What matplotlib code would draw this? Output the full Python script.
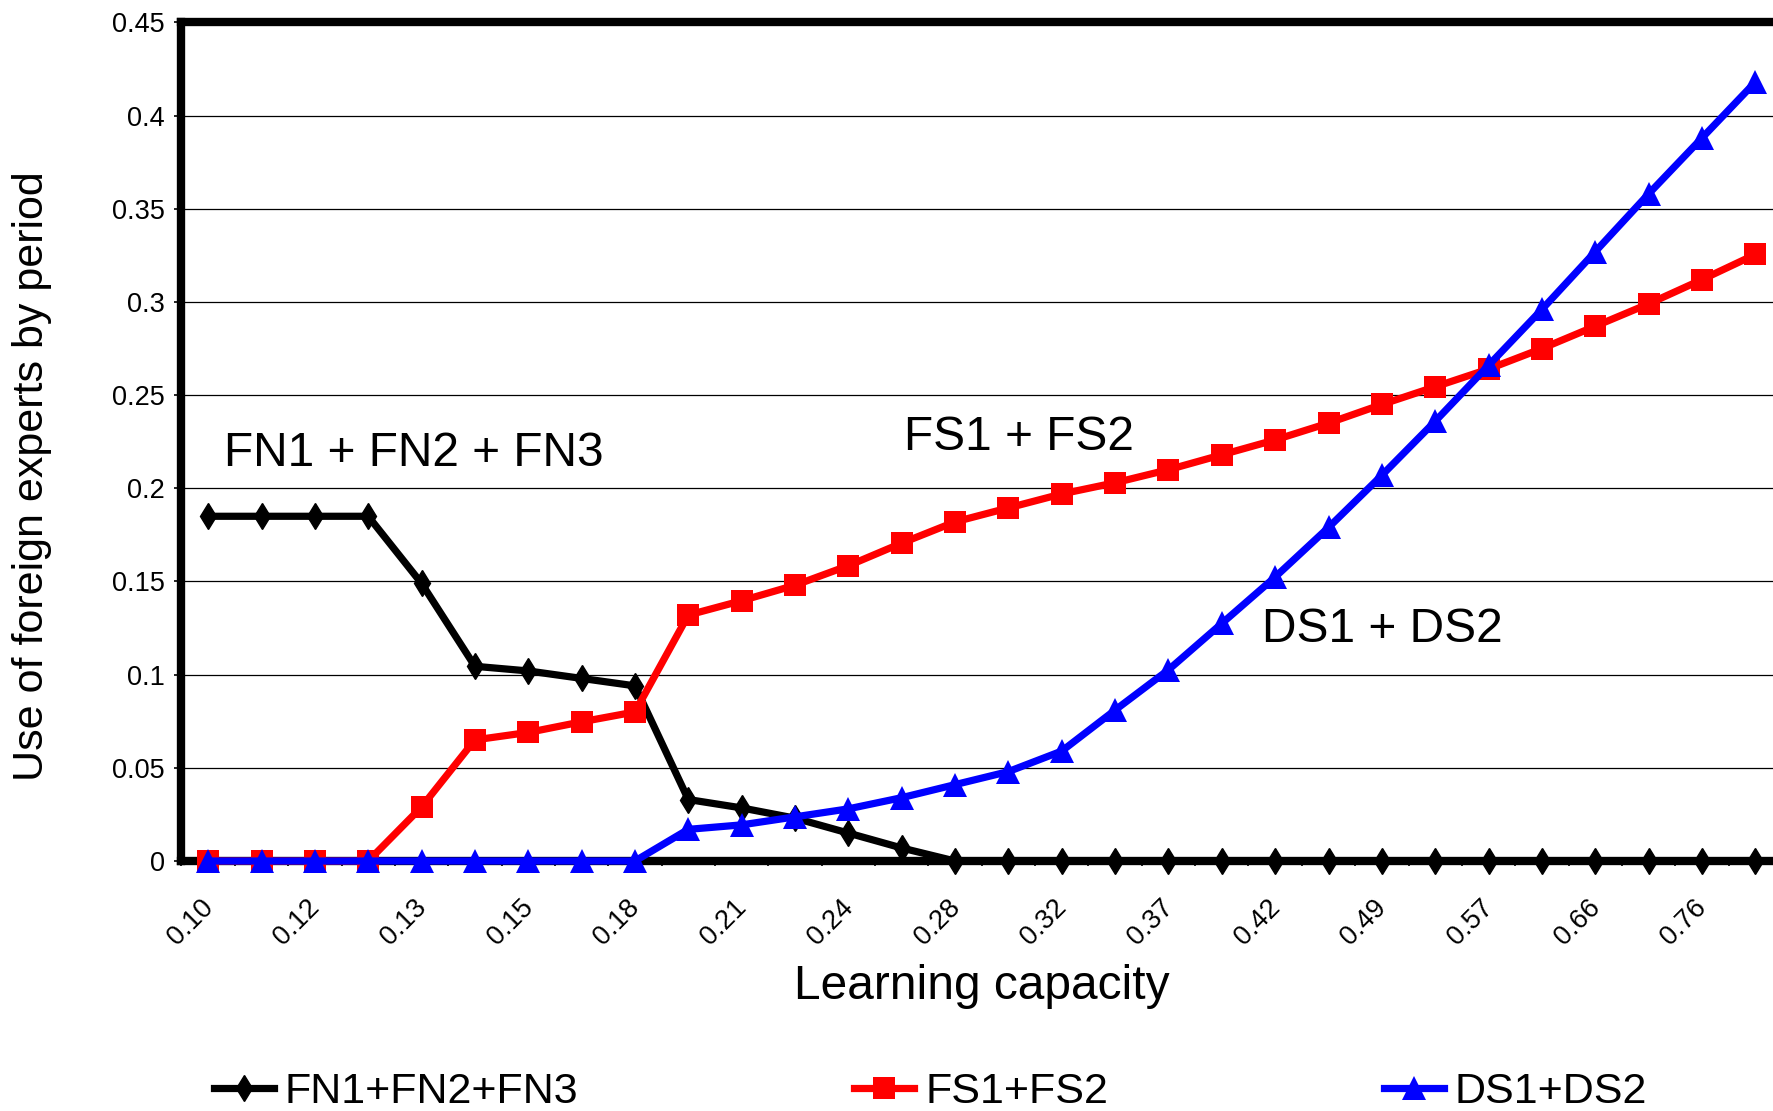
import numpy as np
import matplotlib
matplotlib.use("Agg")
import matplotlib.pyplot as plt
from matplotlib.transforms import ScaledTranslation
from matplotlib.ticker import FuncFormatter

plt.rcParams['font.family'] = ['Liberation Sans', 'DejaVu Sans']

# ---- data ----
n_points = 30
x_tick_labels = ["0.10", "0.12", "0.13", "0.15", "0.18", "0.21", "0.24", "0.28",
                 "0.32", "0.37", "0.42", "0.49", "0.57", "0.66", "0.76"]

fn_values = [0.185, 0.185, 0.185, 0.185, 0.149, 0.1045, 0.102, 0.098, 0.094, 0.033,
             0.0285, 0.023, 0.015, 0.007, 0.0, 0.0, 0.0, 0.0, 0.0, 0.0,
             0.0, 0.0, 0.0, 0.0, 0.0, 0.0, 0.0, 0.0, 0.0, 0.0]
fs_values = [0.0, 0.0, 0.0, 0.0, 0.029, 0.065, 0.069, 0.0747, 0.080, 0.132,
             0.1397, 0.148, 0.1585, 0.1706, 0.182, 0.1895, 0.197, 0.203, 0.210, 0.218,
             0.226, 0.235, 0.245, 0.2545, 0.264, 0.275, 0.287, 0.299, 0.312, 0.3255]
ds_values = [0.0, 0.0, 0.0, 0.0, 0.0, 0.0, 0.0, 0.0, 0.0, 0.017,
             0.0194, 0.0237, 0.028, 0.034, 0.041, 0.048, 0.059, 0.081, 0.1026, 0.1275,
             0.1524, 0.179, 0.207, 0.236, 0.266, 0.296, 0.327, 0.358, 0.388, 0.418]

series_names = ["FN1+FN2+FN3", "FS1+FS2", "DS1+DS2"]
annotation_texts = ["FN1 + FN2 + FN3", "FS1 + FS2", "DS1 + DS2"]
y_ticks = [0, 0.05, 0.1, 0.15, 0.2, 0.25, 0.3, 0.35, 0.4, 0.45]

# ---- figure ----
fig = plt.figure(figsize=(17.74, 11.11), dpi=100)
ax = fig.add_axes([0.1023, 0.225, 0.9022, 0.7548])

x = np.arange(n_points)
ax.plot(x, fn_values, color='black', lw=5.2, marker='d', ms=13.5,
        label=series_names[0], clip_on=False, zorder=4)
ax.plot(x, fs_values, color='#ff0000', lw=5.2, marker='s', ms=16, mew=0,
        label=series_names[1], clip_on=False, zorder=5)
ax.plot(x, ds_values, color='#0000ff', lw=5.2, marker='^', ms=17.5, mew=0,
        label=series_names[2], clip_on=False, zorder=6)

ax.set_xlim(-0.5, n_points - 0.5)
ax.set_ylim(0, 0.45)

# y axis
ax.set_yticks(y_ticks)
ax.yaxis.set_major_formatter(FuncFormatter(lambda v, p: "%g" % round(v, 2)))
ax.tick_params(axis='y', direction='out', length=5, width=1.2, pad=7, labelsize=19.5)
ax.yaxis.grid(True, color='black', lw=0.9)
ax.set_axisbelow(True)

# x axis: boundary ticks (major), labels at even categories (minor)
ax.set_xticks(np.arange(-0.5, n_points, 1.0))
ax.set_xticklabels([])
ax.tick_params(axis='x', which='major', direction='out', length=3.5, width=1.2)
ax.set_xticks(np.arange(0, n_points, 2), x_tick_labels, minor=True)
ax.tick_params(axis='x', which='minor', length=0, pad=24, labelsize=19.5)
offset = ScaledTranslation(-6 / 72, 0, fig.dpi_scale_trans)
for lab in ax.get_xticklabels(minor=True):
    lab.set_rotation(45)
    lab.set_ha('right')
    lab.set_va('top')
    lab.set_rotation_mode('anchor')
    lab.set_transform(lab.get_transform() + offset)

for side in ['top', 'left', 'bottom']:
    ax.spines[side].set_linewidth(6)
    ax.spines[side].set_color('black')
ax.spines['right'].set_visible(False)

# in-chart annotations
ax.text(0.3, 0.2121, annotation_texts[0], fontsize=34.5, ha='left', va='baseline')
ax.text(13.05, 0.2207, annotation_texts[1], fontsize=34.5, ha='left', va='baseline')
ax.text(19.75, 0.1173, annotation_texts[2], fontsize=34.5, ha='left', va='baseline')

# axis labels
fig.text(0.5536, 0.1008, "Learning capacity", fontsize=34.5, ha='center', va='baseline')
fig.text(0.018, 0.5715, "Use of foreign experts by period", fontsize=31,
         ha='center', va='center', rotation=90)

# legend
fig.legend(loc='center', bbox_to_anchor=(0.5245, 0.017), ncol=3, frameon=False,
           fontsize=31, handlelength=1.4, handletextpad=0.25, columnspacing=6.4,
           borderaxespad=0, borderpad=0)

fig.savefig("out.png", dpi=100)
